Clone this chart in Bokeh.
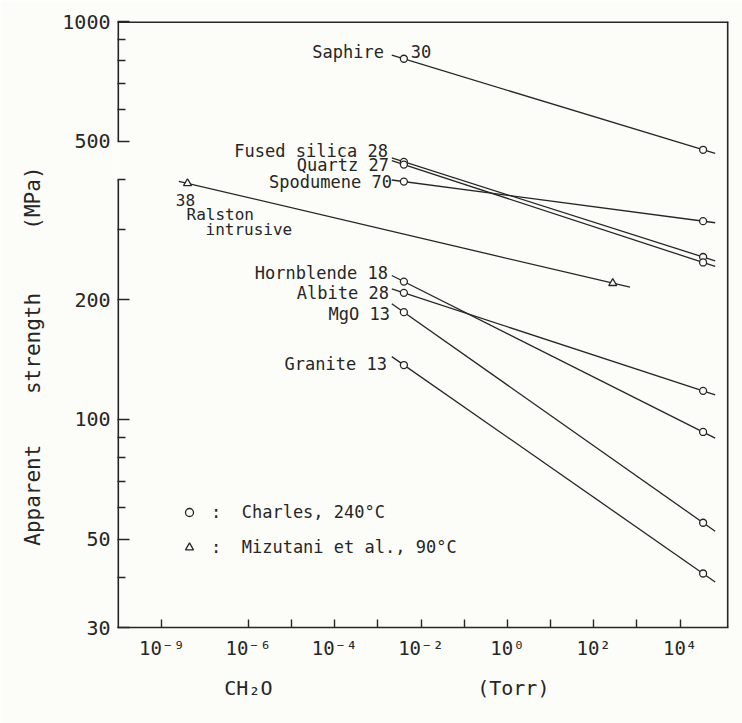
import math

from bokeh.core.properties import value
from bokeh.embed import file_html
from bokeh.models import (ColumnDataSource, FixedTicker, Legend, LegendItem,
                          Range1d)
from bokeh.plotting import figure
from bokeh.resources import INLINE

# ---- data ---------------------------------------------------------------
# Charles (240 C): apparent strength at low and high water-vapour pressure
materials = ["Saphire", "Fused silica", "Quartz", "Spodumene",
             "Hornblende", "Albite", "MgO", "Granite"]
counts = ["30", "28", "27", "70", "18", "28", "13", "13"]
c_low = [4.0e-3] * 8          # Torr
c_high = [3.4e4] * 8          # Torr
s_low = [806, 444, 437, 396, 222, 208, 186, 137]     # MPa
s_high = [476, 256, 248, 315, 93, 118, 55, 41]       # MPa

# Mizutani et al. (90 C): Ralston intrusive
ralston_c = [3.9e-8, 2.75e2]
ralston_s = [392, 220]
ralston_n = "38"

# axis ticks
x_ticks = [1e-8, 1e-6, 1e-4, 1e-2, 1e0, 1e2, 1e4]
x_tick_labels = ["10⁻⁹", "10⁻⁶", "10⁻⁴", "10⁻²", "10⁰", "10²", "10⁴"]
x_minor = [1e-5, 1e-3, 1e-1, 1e1, 1e3]
y_ticks = [30, 50, 100, 200, 500, 1000]
y_minor = [40, 60, 70, 80, 90, 300, 400, 600, 700, 800, 900]

# ---- layout / style -----------------------------------------------------
W, H = 742, 723
FL, FR, FT, FB = 117, 728, 21, 627
LX0, LX1 = -9.03, 5.12
INK = "#262626"
BG = "#fcfcf8"
FONT = "DejaVu Sans Mono"
NB = "\u00a0"


def fit_line(x0, y0, x1, y1, ext_lo, ext_hi):
    """Straight line in log-log space through two points, extended a little."""
    lx0, lx1 = math.log10(x0), math.log10(x1)
    ly0, ly1 = math.log10(y0), math.log10(y1)
    k = (ly1 - ly0) / (lx1 - lx0)
    xa, xb = lx0 - ext_lo, lx1 + ext_hi
    return ([10 ** xa, 10 ** xb],
            [10 ** (ly0 + k * (xa - lx0)), 10 ** (ly0 + k * (xb - lx0))])


p = figure(width=W, height=H, x_axis_type="log", y_axis_type="log",
           x_range=Range1d(10 ** LX0, 10 ** LX1), y_range=Range1d(30, 1000),
           output_backend="svg", toolbar_location=None,
           min_border_left=FL, min_border_right=W - FR,
           min_border_top=FT, min_border_bottom=H - FB)
p.background_fill_color = BG
p.border_fill_color = BG
p.outline_line_color = None
p.xgrid.visible = False
p.ygrid.visible = False

# x axis
xa = p.xaxis[0]
xa.ticker = FixedTicker(ticks=x_ticks, minor_ticks=x_minor)
xa.major_label_overrides = {t: s for t, s in zip(x_ticks, x_tick_labels)}
xa.axis_line_color = INK
xa.axis_line_width = 1.6
xa.major_tick_in, xa.major_tick_out = 8, 0
xa.minor_tick_in, xa.minor_tick_out = 8, 0
xa.major_tick_line_color = INK
xa.minor_tick_line_color = INK
xa.major_tick_line_width = 1.4
xa.minor_tick_line_width = 1.4
xa.major_label_text_font = FONT
xa.major_label_text_font_size = "19px"
xa.major_label_text_color = INK
xa.major_label_standoff = 9
xa.axis_label = "CH₂O" + NB * 17 + "(Torr)" + NB * 6
xa.axis_label_text_font = FONT
xa.axis_label_text_font_size = "20px"
xa.axis_label_text_font_style = "normal"
xa.axis_label_text_color = INK
xa.axis_label_standoff = 14

# y axis (line drawn separately because of the break)
ya = p.yaxis[0]
ya.ticker = FixedTicker(ticks=y_ticks, minor_ticks=y_minor)
ya.axis_line_color = None
ya.major_tick_in, ya.major_tick_out = 12, 0
ya.minor_tick_in, ya.minor_tick_out = 8, 0
ya.major_tick_line_color = INK
ya.minor_tick_line_color = INK
ya.major_tick_line_width = 1.4
ya.minor_tick_line_width = 1.4
ya.major_label_text_font = FONT
ya.major_label_text_font_size = "20px"
ya.major_label_text_color = INK
ya.major_label_standoff = 7
ya.axis_label = "Apparent" + NB * 4 + "strength" + NB * 5 + "(MPa)" + NB * 5
ya.axis_label_text_font = FONT
ya.axis_label_text_font_size = "21px"
ya.axis_label_text_font_style = "normal"
ya.axis_label_text_color = INK
ya.axis_label_standoff = 14

# frame: broken left axis, top and right borders
xs, xe = 10 ** LX0, 10 ** LX1
p.segment(x0=[xs, xs, xs, xe], y0=[30, 500, 1000, 30],
          x1=[xs, xs, xe, xe], y1=[400, 1000, 1000, 1000],
          line_color=INK, line_width=3.2)

# fitted lines for each material
for i in range(len(materials)):
    lx, ly = fit_line(c_low[i], s_low[i], c_high[i], s_high[i], 0.28, 0.28)
    p.line(lx, ly, line_color=INK, line_width=1.3)
rlx, rly = fit_line(ralston_c[0], ralston_s[0], ralston_c[1], ralston_s[1], 0.2, 0.4)
p.line(rlx, rly, line_color=INK, line_width=1.3)

circ = p.scatter(c_low + c_high, s_low + s_high, marker="circle", size=7,
                 fill_color=BG, line_color=INK, line_width=1.3)
tri = p.scatter(ralston_c, ralston_s, marker="triangle", size=8,
                fill_color=BG, line_color=INK, line_width=1.3)

# material labels next to the low-pressure points
label_offsets = {  # pixel offsets from the low-pressure point
    "Saphire": (-20, -7), "Fused silica": (-16, -11), "Quartz": (-15, 0),
    "Spodumene": (-12, 0), "Hornblende": (-16, -9), "Albite": (-15, 0),
    "MgO": (-14, 2), "Granite": (-17, -1),
}
lab_text, lab_x, lab_y, lab_dx, lab_dy = [], [], [], [], []
for m, n, x, y in zip(materials, counts, c_low, s_low):
    dx, dy = label_offsets[m]
    lab_text.append(m if m == "Saphire" else f"{m} {n}")
    lab_x.append(x)
    lab_y.append(y)
    lab_dx.append(dx)
    lab_dy.append(dy)
src = ColumnDataSource(dict(x=lab_x, y=lab_y, text=lab_text, dx=lab_dx, dy=lab_dy))
p.text(x="x", y="y", text="text", x_offset="dx", y_offset="dy", source=src,
       text_align="right", text_baseline="middle", text_color=INK,
       text_font=value(FONT), text_font_size="17px")

# count for Saphire sits to the right of its point
p.text(x=[c_low[0]], y=[s_low[0]], text=[counts[0]], x_offset=7, y_offset=-7,
       text_align="left", text_baseline="middle", text_color=INK,
       text_font=value(FONT), text_font_size="17px")

# Ralston intrusive label under its low-pressure point
p.text(x=[ralston_c[0]], y=[ralston_s[0]], text=[ralston_n],
       x_offset=-2, y_offset=17, text_align="center", text_baseline="middle",
       text_color=INK, text_font=value(FONT), text_font_size="16px")
p.text(x=[ralston_c[0]] * 2, y=[ralston_s[0]] * 2, text=["Ralston", "intrusive"],
       x_offset=[-1, 18], y_offset=[31, 46], text_align="left",
       text_baseline="middle", text_color=INK,
       text_font=value(FONT), text_font_size="16px")

# legend
legend = Legend(items=[
    LegendItem(label=":" + NB * 2 + "Charles, 240°C", renderers=[circ]),
    LegendItem(label=":" + NB * 2 + "Mizutani et al., 90°C", renderers=[tri]),
], location=(62, 70), margin=0, padding=0, spacing=15,
    glyph_width=20, glyph_height=20, label_height=20, label_standoff=12,
    border_line_color=None, background_fill_alpha=0,
    label_text_font=FONT, label_text_font_size="17px", label_text_color=INK)
p.add_layout(legend)

open("out.html", "w").write(file_html(p, INLINE))
